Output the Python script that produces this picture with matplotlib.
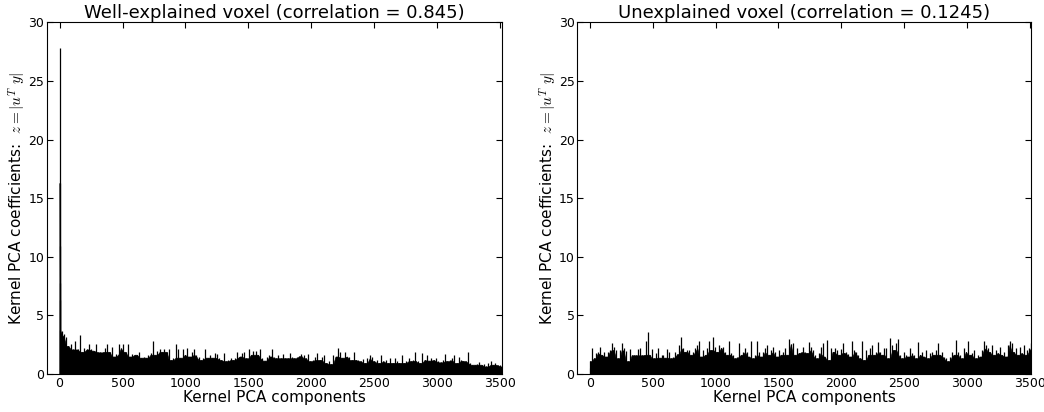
import numpy as np
import matplotlib
matplotlib.use("Agg")
import matplotlib.pyplot as plt

plt.rcParams['mathtext.fontset'] = 'cm'
plt.rcParams['font.family'] = ['DejaVu Sans']

n_components = 3515

# well-explained voxel: first components one by one, then the peak envelope
good_head = [27.8, 16.3, 10.9, 7.8, 6.3, 3.8]
good_tail = [
    3.7, 3.4, 3.15, 2.4, 2.6, 2.1, 2.8, 2.1, 3.3, 1.9, 2.2, 2.1, 2.6, 2.1, 2.0, 2.6,
    1.9, 1.85, 1.9, 2.2, 2.6, 1.9, 2.3, 1.5, 1.7, 2.6, 2.2, 2.6, 1.9, 2.6, 1.5, 1.7,
    1.65, 1.65, 1.9, 1.4, 1.5, 1.4, 1.65, 1.8, 2.8, 1.65, 2.0, 2.1, 1.9, 2.15, 1.9, 2.1,
    1.2, 1.4, 2.6, 2.1, 1.4, 2.15, 1.65, 2.2, 1.5, 1.9, 2.15, 1.65, 1.5, 1.2, 1.4, 2.1,
    1.4, 1.6,
    1.4, 1.8, 1.7, 1.35, 1.2, 1.8, 1.1, 1.2, 1.4, 1.2, 1.35, 1.9, 1.5, 1.8, 1.9, 1.35,
    2.15, 1.65, 2.0, 2.0, 1.65, 2.15, 1.35, 1.15, 1.5, 1.65, 2.1, 1.5, 1.35, 1.65, 1.35, 1.7,
    1.4, 1.35, 1.8, 1.5, 1.35, 1.5, 1.55, 1.7, 1.65, 1.35, 1.7, 1.1, 1.2, 1.5, 1.8, 1.2,
    1.5, 1.6, 0.95, 1.1, 0.85, 1.65, 1.5, 2.25, 1.9, 1.4, 1.9, 1.5, 1.5, 1.2, 1.9, 1.2,
    1.2, 1.1, 1.3, 0.95, 1.35, 1.6, 1.5, 1.1, 1.2, 0.95, 1.6, 1.1, 1.2, 0.95, 1.35, 0.95,
    1.4, 1.15, 0.95, 1.6, 0.95, 1.1, 1.4, 1.1, 1.2, 1.9, 1.15, 0.95, 1.8, 1.2, 1.6, 1.15,
    1.4, 1.2, 1.35, 1.1, 1.0, 1.2, 1.7, 1.1, 1.2, 1.4, 1.6, 0.95, 1.5, 1.2, 1.15, 1.1,
    1.9, 0.95, 0.8, 0.8, 0.85, 1.0, 0.8, 0.85, 0.65, 0.95, 1.15, 0.8, 0.95, 0.8, 0.75, 0.65,
]

# unexplained voxel: peak envelope over all components
bad_vals = [
    1.1, 2.2, 1.35, 1.8, 1.9, 2.35, 1.65, 1.9, 1.5, 1.9, 2.05, 2.65, 2.35, 2.05, 1.35, 2.05,
    2.65, 2.2, 2.0, 1.1, 2.15, 1.65, 1.6, 1.6, 2.15, 2.25, 1.6, 1.65, 2.8, 3.55, 1.65, 2.15,
    1.35, 1.8, 2.25, 1.4, 1.65, 1.6, 1.4, 2.15, 1.9, 1.35, 1.5, 1.9, 1.7, 2.5, 3.2, 2.2,
    1.9, 2.05, 2.05, 1.65, 1.9, 2.2, 2.5, 2.8, 1.5, 2.05, 1.65, 2.2, 2.8, 2.05, 3.2, 2.35,
    1.9, 2.5, 2.25, 2.35, 1.9, 1.65, 2.8, 1.8, 1.65, 1.35, 1.5, 2.65, 1.65, 1.9, 2.2, 1.9,
    1.5, 2.85, 1.35, 1.65, 2.8, 1.9, 1.5, 1.9, 2.2, 2.5, 1.65, 2.05, 2.35, 1.9, 1.5, 2.05,
    1.65, 1.9, 2.2, 1.65, 3.0, 2.55, 2.65, 1.65, 2.2, 1.8, 1.9, 2.35, 1.9, 1.8, 2.75,
    2.35, 2.05, 1.65, 1.35, 1.8, 2.35, 2.65, 1.5, 2.9, 1.2, 2.2, 1.9, 2.2, 2.05, 1.65,
    2.15, 2.65, 1.8, 1.9, 1.7, 1.5, 2.8, 2.05, 1.9, 1.65, 1.35, 2.85, 1.2, 2.05, 1.65, 2.2,
    2.5, 1.65, 1.9, 2.75, 1.9, 1.65, 2.2, 2.25, 1.35, 3.05, 2.5, 2.05, 2.65, 3.0, 1.65, 1.35,
    1.9, 1.65, 1.5, 2.25, 1.8, 1.65, 1.35, 2.75, 1.65, 1.9, 1.5, 2.05, 1.35, 1.8, 1.9, 1.65,
    2.05, 2.65, 1.65, 1.9, 1.5, 1.35, 1.1, 1.5, 1.9, 1.65, 2.9, 1.9, 1.65, 1.35, 2.2, 1.9,
    2.8, 1.65, 1.8, 2.05, 1.35, 1.65, 1.5, 2.05, 2.8, 2.5, 2.2, 1.9, 2.5, 1.65, 2.05, 1.8,
    2.35, 1.65, 1.9, 1.5, 2.5, 2.8, 2.65, 1.9, 2.2, 1.65, 2.35, 1.8, 2.5, 1.65, 2.05, 2.2,
    2.65,
]

titles = ["Well-explained voxel (correlation = 0.845)",
          "Unexplained voxel (correlation = 0.1245)"]

good_x = np.concatenate([np.arange(len(good_head)),
                         np.linspace(16, n_components, len(good_tail))])
good_y = np.array(good_head + good_tail)
bad_x = np.linspace(0, n_components, len(bad_vals))
bad_y = np.array(bad_vals)


def dense_floor(y):
    # the solid black body under the spikes: lowest of each value and its neighbours
    padded = np.concatenate([[y[0]], y, [y[-1]]])
    return np.minimum(np.minimum(padded[:-2], padded[1:-1]), padded[2:])


fig = plt.figure(figsize=(10.44, 4.12), dpi=100)
ax1 = fig.add_axes([0.045, 0.092, 0.436, 0.854])
ax2 = fig.add_axes([0.553, 0.092, 0.435, 0.854])

for ax, x, y, title in [(ax1, good_x, good_y, titles[0]), (ax2, bad_x, bad_y, titles[1])]:
    ax.fill_between(x, 0, dense_floor(y), color='k', lw=0.5, edgecolor='k')
    ax.vlines(x, 0, y, color='k', lw=0.9)
    ax.set_xlim(-100, n_components)
    ax.set_ylim(0, 30)
    ax.set_xticks(range(0, 3501, 500))
    ax.set_yticks(range(0, 31, 5))
    ax.tick_params(direction='in', top=True, right=True, labelsize=9, length=4, pad=2)
    ax.set_title(title, fontsize=13, pad=3)
    ax.set_xlabel("Kernel PCA components", fontsize=11, labelpad=0)
    ax.set_ylabel(r"Kernel PCA coefficients:  $z = |u^T\ y|$", fontsize=11, labelpad=0)

fig.savefig("out.png", dpi=100)
